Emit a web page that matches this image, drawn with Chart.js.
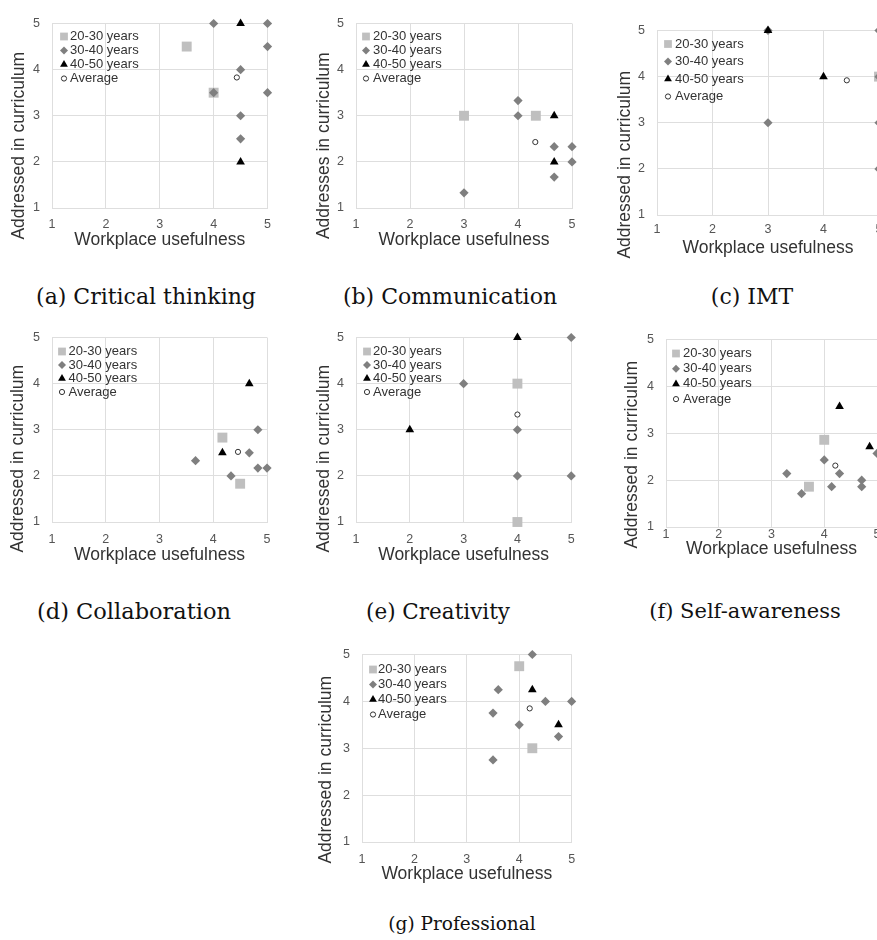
<!DOCTYPE html>
<html>
<head>
<meta charset="UTF-8">
<title>Workplace usefulness vs curriculum</title>
<script src="https://cdn.jsdelivr.net/npm/chart.js@4.4.1/dist/chart.umd.min.js"></script>
<style>
  html, body { margin: 0; padding: 0; background: #fff; overflow: hidden; width: 877px; height: 940px; }
  canvas { position: absolute; }
  .cap { position: absolute; width: 300px; text-align: center; white-space: pre;
         font-family: 'DejaVu Serif', serif; color: #111; }
</style>
</head>
<body>
<script>
const ageGroups = ['20-30 years', '30-40 years', '40-50 years', 'Average'];
const axisTicks = [1, 2, 3, 4, 5];
const xTitle = 'Workplace usefulness';

// (a) Critical thinking
const critical20 = [[3.5, 4.5], [4, 3.5]];
const critical30 = [[4, 5], [5, 5], [5, 4.5], [4.5, 4], [4, 3.5], [5, 3.5], [4.5, 3], [4.5, 2.5]];
const critical40 = [[4.5, 5], [4.5, 2]];
const criticalAvg = [[4.43, 3.83]];

// (b) Communication
const comm20 = [[3, 3], [4.33, 3]];
const comm30 = [[4, 3.33], [4, 3], [4.67, 2.33], [5, 2.33], [5, 2], [4.67, 1.67], [3, 1.33]];
const comm40 = [[4.67, 3], [4.67, 2]];
const commAvg = [[4.32, 2.43]];

// (c) IMT
const imt20 = [[5, 4]];
const imt30 = [[3, 5], [5, 5], [5, 4], [3, 3], [5, 3], [5, 2]];
const imt40 = [[3, 5], [4, 4]];
const imtAvg = [[4.42, 3.92]];

// (d) Collaboration
const collab20 = [[4.17, 2.83], [4.5, 1.83]];
const collab30 = [[3.67, 2.33], [4.33, 2], [4.67, 2.5], [4.83, 3], [4.83, 2.17], [5, 2.17]];
const collab40 = [[4.67, 4], [4.17, 2.5]];
const collabAvg = [[4.46, 2.52]];

// (e) Creativity
const creat20 = [[4, 4], [4, 1]];
const creat30 = [[5, 5], [3, 4], [4, 3], [4, 2], [5, 2]];
const creat40 = [[4, 5], [2, 3]];
const creatAvg = [[4, 3.33]];

// (f) Self-awareness
const self20 = [[4, 2.86], [3.71, 1.86]];
const self30 = [[3.29, 2.14], [3.57, 1.71], [4, 2.43], [4.29, 2.14], [4.14, 1.86], [4.71, 2], [4.71, 1.86], [5, 2.57]];
const self40 = [[4.29, 3.57], [4.86, 2.71]];
const selfAvg = [[4.21, 2.31]];

// (g) Professional
const prof20 = [[4, 4.75], [4.25, 3]];
const prof30 = [[4.25, 5], [3.6, 4.25], [3.5, 3.75], [4, 3.5], [4.5, 4], [5, 4], [4.75, 3.25], [3.5, 2.75]];
const prof40 = [[4.25, 4.25], [4.75, 3.5]];
const profAvg = [[4.2, 3.85]];

// layout of each sub figure (page pixels)
const panels = [
  {cap: '(a) Critical thinking', capSize: 22, capX: 146, capBase: 305, yTitle: 'Addressed in curriculum',
   data: [critical20, critical30, critical40, criticalAvg],
   L: 52, R: 268, T: 16, B: 208, tickPad: 9, titleGap: 32.5, ydx: 33, ydy: 30, leg: {mx: 12, tx: 18, y0: 13, dy: 14}},
  {cap: '(b) Communication', capSize: 22, capX: 450, capBase: 305, yTitle: 'Addresses in curriculum',
   data: [comm20, comm30, comm40, commAvg],
   L: 356, R: 573, T: 16, B: 208, tickPad: 9.5, titleGap: 32.5, ydx: 32, ydy: 30, leg: {mx: 10, tx: 17, y0: 13, dy: 14}},
  {cap: '(c) IMT', capSize: 22, capX: 752, capBase: 305, yTitle: 'Addressed in curriculum',
   data: [imt20, imt30, imt40, imtAvg],
   L: 657, R: 879, T: 23, B: 215, tickPad: 7, titleGap: 33.8, ydx: 32, ydy: 42, leg: {mx: 11, tx: 18, y0: 13.5, dy: 17.5}},
  {cap: '(d) Collaboration', capSize: 22.5, capX: 134, capBase: 619, yTitle: 'Addressed in curriculum',
   data: [collab20, collab30, collab40, collabAvg],
   L: 52, R: 269, T: 330, B: 522, tickPad: 10.5, titleGap: 33.8, ydx: 33.5, ydy: 29, leg: {mx: 10, tx: 16.5, y0: 14, dy: 13.5}},
  {cap: '(e) Creativity', capSize: 21.5, capX: 438, capBase: 619, yTitle: 'Addressed in curriculum',
   data: [creat20, creat30, creat40, creatAvg],
   L: 356, R: 573, T: 330, B: 522, tickPad: 10.3, titleGap: 33.8, ydx: 31.5, ydy: 29, leg: {mx: 11, tx: 17, y0: 14, dy: 13.5}},
  {cap: '(f) Self-awareness', capSize: 21, capX: 745, capBase: 619, yTitle: 'Addressed in curriculum',
   data: [self20, self30, self40, selfAvg],
   L: 666, R: 877, T: 332, B: 527, tickPad: 0, titleGap: 22, ydx: 34, ydy: 21.5, leg: {mx: 10, tx: 17, y0: 14, dy: 15.2}},
  {cap: '(g) Professional', capSize: 18.5, capX: 462, capBase: 931, yTitle: 'Addressed in curriculum',
   data: [prof20, prof30, prof40, profAvg],
   L: 362, R: 573, T: 647, B: 842, tickPad: 9.9, titleGap: 32, ydx: 36, ydy: 21.5, leg: {mx: 11, tx: 16, y0: 15, dy: 15}}
];

const sans = "'Liberation Sans', Arial, sans-serif";
Chart.defaults.font.family = sans;

// marker look of the four groups
const groupStyle = [
  {pointStyle: 'rect', radius: 7, legendRadius: 5.5, backgroundColor: '#bfbfbf', borderColor: '#bfbfbf', borderWidth: 0, order: 4},
  {pointStyle: 'rectRot', radius: 4.6, legendRadius: 4, backgroundColor: '#7f7f7f', borderColor: '#7f7f7f', borderWidth: 0, order: 3},
  {pointStyle: 'triangle', radius: 5, legendRadius: 4.5, backgroundColor: '#000', borderColor: '#000', borderWidth: 0, order: 2},
  {pointStyle: 'circle', radius: 2.6, legendRadius: 2.6, backgroundColor: '#fff', borderColor: '#333', borderWidth: 1, order: 1}
];

// legend drawn inside the plot area, top left
const insideLegend = {
  id: 'insideLegend',
  afterDraw(chart, args, opts) {
    const {ctx, chartArea} = chart;
    ctx.save();
    ctx.font = '13px ' + sans;
    ctx.textBaseline = 'middle';
    ctx.textAlign = 'left';
    chart.data.datasets.forEach((ds, i) => {
      const y = chartArea.top + opts.y0 + i * opts.dy;
      const st = groupStyle[i];
      ctx.fillStyle = st.backgroundColor;
      ctx.strokeStyle = st.borderColor;
      ctx.lineWidth = st.borderWidth;
      Chart.helpers.drawPoint(ctx, {pointStyle: st.pointStyle, radius: st.legendRadius, borderWidth: st.borderWidth, rotation: 0},
        chartArea.left + opts.mx, y);
      ctx.fillStyle = '#333';
      ctx.fillText(ds.label, chartArea.left + opts.tx, y);
    });
    ctx.restore();
  }
};

// rotated y title, centred a bit below the plot centre like the original
const sideTitle = {
  id: 'sideTitle',
  afterDraw(chart, args, opts) {
    const {ctx, chartArea} = chart;
    ctx.save();
    ctx.translate(chartArea.left - opts.dx, (chartArea.top + chartArea.bottom) / 2 + opts.dy);
    ctx.rotate(-Math.PI / 2);
    ctx.font = '17.5px ' + sans;
    ctx.fillStyle = '#333';
    ctx.textAlign = 'center';
    ctx.textBaseline = 'middle';
    ctx.fillText(opts.text, 0, 0);
    ctx.restore();
  }
};

panels.forEach((p, n) => {
  const padTop = 12, padRight = 12, padBottom = 8, yAxW = 46;
  const xAxH = Math.round(p.titleGap + 10.5);
  const w = p.R - p.L + yAxW + padRight;
  const h = p.B - p.T + padTop + xAxH + padBottom;

  const cv = document.createElement('canvas');
  cv.width = w;
  cv.height = h;
  cv.style.left = (p.L - yAxW) + 'px';
  cv.style.top = (p.T - padTop) + 'px';
  document.body.appendChild(cv);

  const datasets = p.data.map((pts, i) => Object.assign({
    label: ageGroups[i],
    data: pts.map(d => ({x: d[0], y: d[1]})),
    clip: false
  }, groupStyle[i], {pointRadius: groupStyle[i].radius}));

  const axis = (isX) => ({
    type: 'linear',
    min: axisTicks[0],
    max: axisTicks[axisTicks.length - 1],
    afterBuildTicks: s => { s.ticks = axisTicks.map(v => ({value: v})); },
    afterFit: s => { if (isX) s.height = xAxH; else s.width = yAxW; },
    grid: {color: '#dedede', drawTicks: false},
    border: {color: '#dedede'},
    ticks: {padding: isX ? p.tickPad : 12, color: '#555', font: {size: 12.5}},
    title: isX ? {display: true, text: xTitle, color: '#333', font: {size: 17.5}, padding: 0} : {display: false}
  });

  new Chart(cv, {
    type: 'scatter',
    data: {datasets: datasets},
    options: {
      responsive: false,
      animation: false,
      events: [],
      clip: false,
      layout: {padding: {top: padTop, right: padRight, bottom: padBottom, left: 0}},
      scales: {x: axis(true), y: axis(false)},
      plugins: {
        legend: {display: false},
        tooltip: {enabled: false},
        insideLegend: p.leg,
        sideTitle: {text: p.yTitle, dx: p.ydx, dy: p.ydy}
      }
    },
    plugins: [insideLegend, sideTitle]
  });

  const cap = document.createElement('div');
  cap.className = 'cap';
  cap.textContent = p.cap;
  cap.style.fontSize = p.capSize + 'px';
  cap.style.lineHeight = p.capSize + 'px';
  cap.style.left = (p.capX - 150) + 'px';
  cap.style.top = (p.capBase - 0.846 * p.capSize) + 'px';
  document.body.appendChild(cap);
});
</script>
</body>
</html>
